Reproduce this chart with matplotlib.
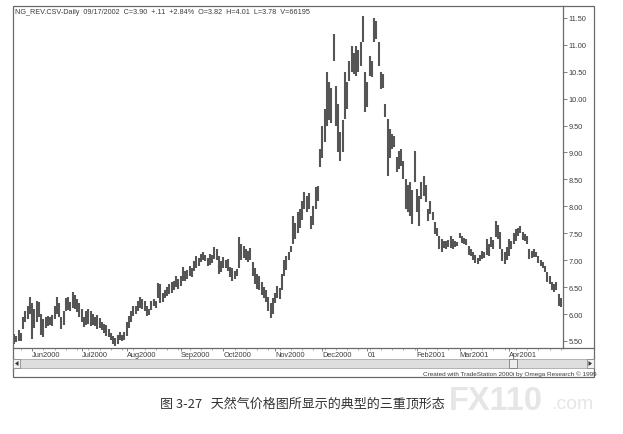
import matplotlib
matplotlib.use("Agg")
import matplotlib.pyplot as plt
from matplotlib.patches import Rectangle, Polygon
from matplotlib.lines import Line2D

# text
header = "NG_REV.CSV-Daily  09/17/2002  C=3.90  +.11  +2.84%  O=3.82  H=4.01  L=3.78  V=66195"
caption = "图 3-27   天然气价格图所显示的典型的三重顶形态"
credit = "Created with TradeStation 2000i by Omega Research © 1999"

# x axis: bar index of each month start
month_labels = ["Jun2000", "Jul2000", "Aug2000", "Sep2000", "Oct2000", "Nov2000",
                "Dec2000", "01", "Feb2001", "Mar2001", "Apr2001"]
month_starts = [8, 30, 50, 74, 93, 116, 137, 157, 179, 198, 220]

price_ticks = [5.5, 6.0, 6.5, 7.0, 7.5, 8.0, 8.5, 9.0, 9.5, 10.0, 10.5, 11.0, 11.5]

# daily highs / lows
highs = [5.63, 5.60, 5.70, 5.65, 5.95, 6.05, 6.15, 6.32, 6.20, 6.10,
         6.25, 6.22, 6.00, 5.90, 5.95, 5.97, 5.95, 5.98, 6.15, 6.32,
         6.20, 5.95, 6.05, 6.30, 6.32, 6.22, 6.41, 6.35, 6.28, 6.20,
         6.10, 5.95, 6.05, 6.10, 6.05, 6.00, 5.95, 5.99, 5.92, 5.85,
         5.82, 5.80, 5.72, 5.65, 5.60, 5.55, 5.62, 5.66, 5.62, 5.66,
         5.85, 5.96, 6.05, 6.15, 6.15, 6.25, 6.32, 6.28, 6.25, 6.15,
         6.10, 6.25, 6.28, 6.25, 6.58, 6.55, 6.40, 6.45, 6.50, 6.55,
         6.60, 6.62, 6.70, 6.65, 6.71, 6.87, 6.80, 6.82, 6.90, 6.85,
         6.98, 7.08, 7.05, 7.12, 7.15, 7.10, 7.05, 7.12, 7.10, 7.25,
         7.20, 7.08, 6.98, 7.06, 7.00, 7.02, 6.87, 6.85, 6.80, 6.84,
         7.43, 7.30, 7.26, 7.20, 7.18, 7.22, 6.97, 6.85, 6.75, 6.70,
         6.60, 6.50, 6.45, 6.32, 6.20, 6.30, 6.40, 6.52, 6.48, 6.75,
         7.00, 7.08, 7.15, 7.26, 7.82, 7.70, 7.90, 7.95, 8.10, 8.27,
         8.20, 8.25, 7.82, 8.00, 8.36, 8.38, 9.07, 9.50, 9.80, 10.50,
         10.30, 10.20, 11.20, 10.24, 9.90, 9.38, 9.60, 10.50, 10.30, 10.70,
         10.98, 10.85, 10.98, 10.90, 11.05, 11.54, 10.50, 10.30, 10.80, 10.70,
         11.50, 11.45, 11.05, 10.50, 10.45, 9.90, 9.62, 9.44, 9.35, 9.30,
         8.92, 9.03, 9.07, 8.85, 8.50, 8.40, 8.45, 8.30, 9.02, 8.32,
         8.20, 8.45, 8.56, 8.40, 7.95, 8.10, 7.90, 7.71, 7.60, 7.45,
         7.40, 7.36, 7.35, 7.38, 7.45, 7.40, 7.36, 7.34, 7.50, 7.45,
         7.42, 7.40, 7.26, 7.20, 7.15, 7.10, 7.05, 7.10, 7.17, 7.15,
         7.40, 7.30, 7.43, 7.38, 7.73, 7.65, 7.52, 7.21, 7.15, 7.25,
         7.40, 7.35, 7.50, 7.58, 7.60, 7.64, 7.52, 7.49, 7.45, 7.21,
         7.18, 7.21, 7.15, 7.08, 7.00, 6.97, 6.90, 6.78, 6.70, 6.60,
         6.55, 6.60, 6.37, 6.30]
lows = [5.45, 5.48, 5.50, 5.50, 5.72, 5.85, 5.90, 6.00, 5.53, 5.75,
        5.85, 5.95, 5.62, 5.57, 5.75, 5.78, 5.80, 5.78, 5.90, 6.00,
        5.95, 5.72, 5.80, 6.05, 6.08, 6.05, 6.12, 6.10, 6.04, 5.95,
        5.85, 5.76, 5.80, 5.82, 5.78, 5.80, 5.78, 5.72, 5.75, 5.70,
        5.65, 5.60, 5.57, 5.52, 5.45, 5.40, 5.45, 5.52, 5.50, 5.52,
        5.60, 5.75, 5.85, 5.96, 6.00, 6.05, 6.12, 6.10, 6.05, 5.96,
        5.98, 6.08, 6.15, 6.12, 6.30, 6.20, 6.22, 6.30, 6.34, 6.38,
        6.40, 6.45, 6.50, 6.47, 6.52, 6.62, 6.61, 6.65, 6.70, 6.68,
        6.80, 6.86, 6.90, 6.97, 7.00, 6.98, 6.90, 6.92, 6.95, 7.02,
        7.00, 6.75, 6.78, 6.85, 6.85, 6.80, 6.68, 6.61, 6.65, 6.71,
        6.85, 7.00, 7.05, 7.00, 6.97, 7.00, 6.70, 6.55, 6.47, 6.45,
        6.35, 6.30, 6.23, 6.05, 5.92, 6.00, 6.20, 6.30, 6.28, 6.45,
        6.70, 6.82, 7.00, 7.15, 7.30, 7.40, 7.50, 7.60, 7.75, 7.95,
        7.90, 7.95, 7.58, 7.65, 7.95, 8.10, 8.73, 8.90, 9.20, 9.50,
        9.60, 9.55, 10.70, 9.50, 9.00, 8.84, 9.00, 9.62, 9.80, 10.33,
        10.50, 10.45, 10.42, 10.50, 10.60, 11.05, 9.75, 9.85, 10.42, 10.40,
        11.05, 11.10, 10.60, 10.18, 10.20, 9.66, 8.56, 8.90, 9.07, 9.10,
        8.64, 8.70, 8.75, 8.50, 7.95, 7.90, 7.82, 7.67, 8.45, 7.90,
        7.64, 8.14, 8.20, 8.08, 7.73, 7.86, 7.75, 7.49, 7.45, 7.20,
        7.15, 7.22, 7.20, 7.25, 7.22, 7.21, 7.25, 7.26, 7.42, 7.32,
        7.30, 7.28, 7.10, 7.08, 7.00, 6.95, 6.93, 6.98, 7.02, 7.05,
        7.10, 7.08, 7.25, 7.21, 7.43, 7.40, 7.21, 6.98, 6.93, 7.00,
        7.08, 7.20, 7.30, 7.35, 7.45, 7.50, 7.38, 7.36, 7.30, 7.02,
        7.05, 7.06, 7.06, 6.95, 6.89, 6.85, 6.78, 6.60, 6.55, 6.45,
        6.41, 6.45, 6.15, 6.13]

W, H = 623, 435


def fx(px):
    return px / W


def fy(py):
    return 1 - py / H


fig = plt.figure(figsize=(6.23, 4.35), dpi=100)
fig.patch.set_facecolor("white")

grey = "#555555"
txt = "#3c3c3c"
frame = "#6a6a6a"

# watermark (behind everything)
fig.text(fx(449), fy(402), "FX110", fontsize=23.5, fontweight="bold", color="#e6e6e6",
         va="center", ha="left", family=["Liberation Sans", "DejaVu Sans"], zorder=0)
fig.text(fx(551), fy(405), ".com", fontsize=14, color="#e6e6e6",
         va="center", ha="left", family=["Liberation Sans", "DejaVu Sans"], zorder=0)

# outer chart window frame
fig.add_artist(Rectangle((fx(13), fy(378)), fx(594) - fx(13), fy(7) - fy(378),
                         transform=fig.transFigure, fill=False, ec=frame, lw=0.9))

ax = fig.add_axes([fx(13), fy(349), fx(563) - fx(13), fy(7) - fy(349)])
ax.vlines(range(len(highs)), lows, highs, color=grey, lw=1.5)
ax.set_xlim(-0.5, 244)
ax.set_ylim(5.37, 11.72)

for s in ["left", "top"]:
    ax.spines[s].set_visible(False)
for s in ["right", "bottom"]:
    ax.spines[s].set_color(frame)
    ax.spines[s].set_linewidth(0.9)

ax.yaxis.tick_right()
ax.set_yticks(price_ticks, [f"{v:.2f}" for v in price_ticks])
ax.tick_params(axis="y", length=3, width=0.6, pad=1, labelsize=5.3,
               colors=frame, labelcolor=txt)
ax.set_xticks(month_starts, month_labels)
ax.set_xticks(range(3, 244, 5), minor=True)
ax.tick_params(axis="x", which="major", length=2, width=0.6, pad=0.3,
               labelsize=5.3, colors=frame, labelcolor=txt)
ax.tick_params(axis="x", which="minor", length=1.5, width=0.5, colors="#8a8a8a")
for lab in ax.get_xticklabels():
    lab.set_horizontalalignment("left")
for lab in ax.get_xticklabels() + ax.get_yticklabels():
    lab.set_family(["Liberation Sans", "DejaVu Sans"])

# x-axis line continues under the price scale
fig.add_artist(Line2D([fx(563), fx(594)], [fy(349), fy(349)],
                      transform=fig.transFigure, color=frame, lw=0.9))

# header
fig.text(fx(15), fy(13), header, fontsize=5.2, color=txt, va="center",
         family=["Liberation Sans", "DejaVu Sans"])

# scrollbar
fig.add_artist(Rectangle((fx(13), fy(369)), fx(594) - fx(13), fy(360) - fy(369),
                         transform=fig.transFigure, fc="#dedede", ec="#9a9a9a", lw=0.5))
for x0 in (13, 587):
    fig.add_artist(Rectangle((fx(x0), fy(369)), fx(7), fy(360) - fy(369),
                             transform=fig.transFigure, fc="#f2f2f2", ec="#7a7a7a", lw=0.5))
fig.add_artist(Polygon([(fx(15), fy(364.5)), (fx(18.5), fy(362)), (fx(18.5), fy(367))],
                       closed=True, transform=fig.transFigure, fc="#333333", ec="none"))
fig.add_artist(Polygon([(fx(592), fy(364.5)), (fx(588.5), fy(362)), (fx(588.5), fy(367))],
                       closed=True, transform=fig.transFigure, fc="#333333", ec="none"))
fig.add_artist(Rectangle((fx(509), fy(369)), fx(8), fy(360) - fy(369),
                         transform=fig.transFigure, fc="#eeeeee", ec=frame, lw=0.5))

fig.text(fx(597), fy(374), credit, fontsize=4.6, color=txt, ha="right", va="center",
         family=["Liberation Sans", "DejaVu Sans"])

# caption
fig.text(fx(160), fy(404), caption, fontsize=9.4, color="#333333", va="center", ha="left",
         family=["Noto Sans CJK SC", "DejaVu Sans"])

fig.savefig("out.png", dpi=100)
